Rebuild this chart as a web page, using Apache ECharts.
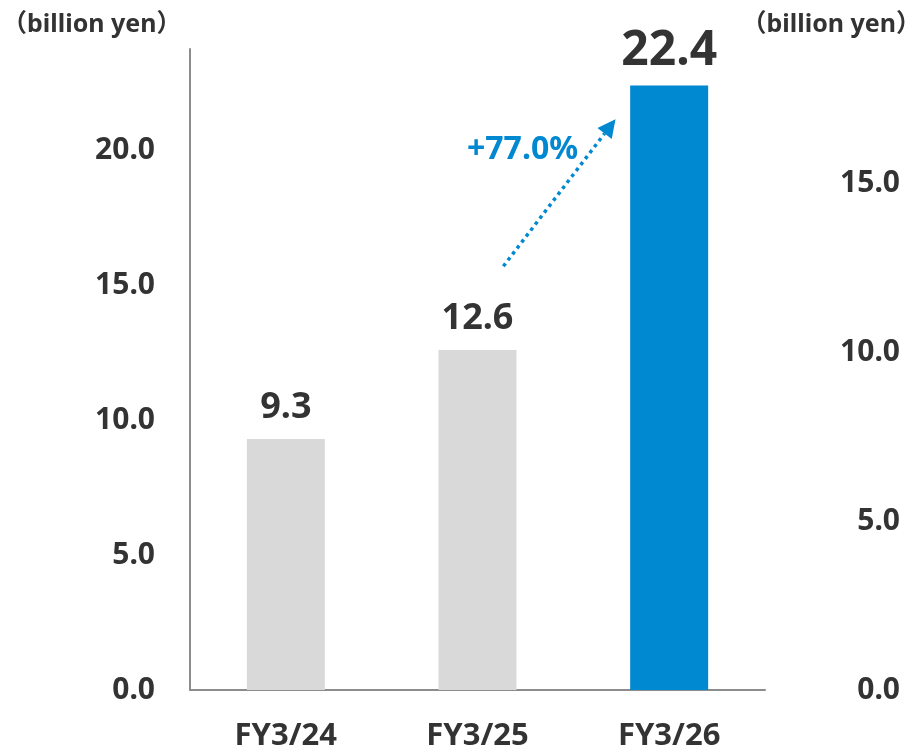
<!DOCTYPE html>
<html>
<head>
<meta charset="utf-8">
<script src="https://cdn.jsdelivr.net/npm/echarts@6/dist/echarts.min.js"></script>
<style>html,body{margin:0;padding:0;background:#fff;}#c{width:915px;height:755px;}</style>
</head>
<body>
<div id="c"></div>
<script>
const categories = ['FY3/24', 'FY3/25', 'FY3/26'];
const values = [9.3, 12.6, 22.4];
const leftTicks = { min: 0, max: 23.75, interval: 5 };
const rightTicks = { min: 0, max: 19, interval: 5 };
const unitLabel = '（billion yen）';
const growthLabel = '+77.0%';

const FONT = '"Noto Sans", "Noto Sans CJK JP", sans-serif';
const DARK = '#333333';
const BLUE = '#0088D1';
const GRAY = '#D9D9D9';

const chart = echarts.init(document.getElementById('c'));
const unitStyle = { text: unitLabel, fontFamily: FONT, fontWeight: 'bold', fontSize: 25, fill: DARK };
const unitLeft = { type: 'text', left: 2, top: 12, style: unitStyle };
const unitRight = { type: 'text', right: -6, top: 12, style: unitStyle };
const option = {
  animation: false,
  grid: { left: 190, right: 150, top: 49, bottom: 65 },
  xAxis: {
    type: 'category',
    data: categories,
    axisLine: { lineStyle: { color: '#8c8c8c', width: 2 } },
    axisTick: { show: false },
    axisLabel: { fontFamily: FONT, fontWeight: 'bold', fontSize: 31, color: DARK, margin: 31 }
  },
  yAxis: [
    {
      type: 'value', position: 'left',
      min: leftTicks.min, max: leftTicks.max, interval: leftTicks.interval,
      axisLine: { show: true, lineStyle: { color: '#8c8c8c', width: 2 } },
      axisTick: { show: false },
      splitLine: { show: false },
      axisLabel: { fontFamily: FONT, fontWeight: 'bold', fontSize: 30, color: DARK, margin: 35, showMaxLabel: false,
        formatter: v => v.toFixed(1) }
    },
    {
      type: 'value', position: 'right',
      min: rightTicks.min, max: rightTicks.max, interval: rightTicks.interval,
      axisLine: { show: false },
      axisTick: { show: false },
      splitLine: { show: false },
      axisLabel: { fontFamily: FONT, fontWeight: 'bold', fontSize: 30, color: DARK, margin: 135, align: 'right', showMaxLabel: false,
        formatter: v => v.toFixed(1) }
    }
  ],
  series: [{
    type: 'bar',
    barWidth: 78,
    data: values.map((v, i) => ({
      value: v,
      itemStyle: { color: i === values.length - 1 ? BLUE : GRAY },
      label: i === values.length - 1 ? { fontSize: 48, distance: 10 } : {}
    })),
    label: {
      show: true, position: 'top', distance: 13,
      fontFamily: FONT, fontWeight: 'bold', fontSize: 36, color: DARK,
      formatter: p => p.value.toFixed(1)
    }
  }],
  graphic: [unitLeft, unitRight]
};
chart.setOption(option);

// Growth arrow between bar 2 and bar 3, positioned through the axes
const pA1 = chart.convertToPixel({ seriesIndex: 0 }, [1, 15.7]);
const pA2 = chart.convertToPixel({ seriesIndex: 0 }, [2, 15.7]);
const pB1 = chart.convertToPixel({ seriesIndex: 0 }, [1, 21.15]);
const pB2 = chart.convertToPixel({ seriesIndex: 0 }, [2, 21.15]);
const start = [pA1[0] + (pA2[0] - pA1[0]) * 0.135, pA1[1]];
const end = [pB1[0] + (pB2[0] - pB1[0]) * 0.72, pB1[1]];
const ang = Math.atan2(end[1] - start[1], end[0] - start[0]);
const headLen = 18, headW = 9;
const base = [end[0] - headLen * Math.cos(ang), end[1] - headLen * Math.sin(ang)];
const nx = -Math.sin(ang), ny = Math.cos(ang);
const lbl = chart.convertToPixel({ seriesIndex: 0 }, [1, 20.0]);
const lbl2 = chart.convertToPixel({ seriesIndex: 0 }, [2, 20.0]);
chart.setOption({
  graphic: [
    unitLeft,
    unitRight,
    { type: 'line', shape: { x1: start[0], y1: start[1], x2: base[0], y2: base[1] },
      style: { stroke: BLUE, lineWidth: 3.5, lineDash: [3.5, 4] } },
    { type: 'polygon', shape: { points: [end, [base[0] + nx * headW, base[1] + ny * headW], [base[0] - nx * headW, base[1] - ny * headW]] },
      style: { fill: BLUE } },
    { type: 'text', x: lbl[0] + (lbl2[0] - lbl[0]) * 0.235, y: lbl[1],
      style: { text: growthLabel, fontFamily: FONT, fontWeight: 'bold', fontSize: 32, fill: BLUE, align: 'center', verticalAlign: 'middle' } }
  ]
}, { replaceMerge: ['graphic'] });
</script>
</body>
</html>
